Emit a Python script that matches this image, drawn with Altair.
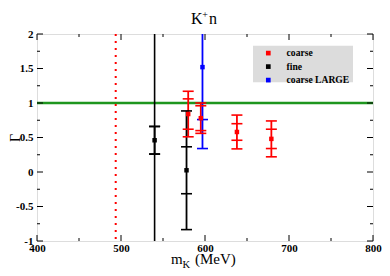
import altair as alt
import pandas as pd

# ---------------- data ----------------
series_names = ["coarse", "fine", "coarse LARGE"]
series_colors = ["#ff0000", "#000000", "#0000ff"]

coarse_x = [580, 595, 638, 679]
coarse_y = [0.84, 0.78, 0.58, 0.48]
coarse_err_in = [0.22, 0.18, 0.12, 0.14]
coarse_err_out = [0.33, 0.22, 0.245, 0.26]

fine_x = [540, 578]
fine_y = [0.46, 0.025]
fine_err_in = [0.20, 0.34]
fine_err_out = [0.20, 0.86]

large_x = [597]
large_y = [1.52]
large_err_in = [0.76]
large_err_out = [1.18]

hline_y = [1.0]
kaon_mass_x = [493.7]
threshold_x = [540]

x_major = [400, 500, 600, 700, 800]
x_minor = [450, 550, 650, 750]
y_major = [-1, -0.5, 0, 0.5, 1, 1.5, 2]
y_minor = [-0.75, -0.25, 0.25, 0.75, 1.25, 1.75]

# ---------------- tables ----------------
rows = []
for name, col, xs, ys, e1s, e2s in [
    ("coarse", "#ff0000", coarse_x, coarse_y, coarse_err_in, coarse_err_out),
    ("fine", "#000000", fine_x, fine_y, fine_err_in, fine_err_out),
    ("coarse LARGE", "#0000ff", large_x, large_y, large_err_in, large_err_out),
]:
    for x, y, e1, e2 in zip(xs, ys, e1s, e2s):
        rows.append(dict(series=name, col=col, x=x, y=y,
                         lo=y - e2, hi=y + e2, lo1=y - e1, hi1=y + e1))
df = pd.DataFrame(rows)

caps = []
for r in rows:
    for k in ["lo", "hi", "lo1", "hi1"]:
        caps.append(dict(col=r["col"], x=r["x"], y=r[k]))
caps_df = pd.DataFrame(caps)

FONT = "Liberation Serif"
W, H = 336, 207

xscale = alt.Scale(domain=[400, 800], nice=False, zero=False)
yscale = alt.Scale(domain=[-1, 2], nice=False, zero=False)
xaxis = alt.Axis(values=x_major, ticks=False, tickSize=0, domain=False, grid=False,
                 title=None, labelFont=FONT, labelFontSize=11, labelFontWeight="bold",
                 labelColor="black", labelPadding=1, labelFlush=False, labelOverlap=False,
                 labelExpr="toString(datum.value)")
yaxis = alt.Axis(values=y_major, ticks=False, tickSize=0, domain=False, grid=False,
                 title=None, labelFont=FONT, labelFontSize=11, labelFontWeight="bold",
                 labelColor="black", labelPadding=4, labelOverlap=False,
                 labelExpr="toString(datum.value)")


def X(f):
    return alt.X(f, type="quantitative", scale=xscale, axis=xaxis)


def Y(f):
    return alt.Y(f, type="quantitative", scale=yscale, axis=yaxis)


one = pd.DataFrame({"a": [0]})

legend_box = alt.Chart(one).mark_rect(fill="#dcdcdc").encode(
    x=alt.value(216), x2=alt.value(316), y=alt.value(11.7), y2=alt.value(48.3))

hline = alt.Chart(pd.DataFrame({"y": hline_y})).mark_rule(
    color="#1e961e", strokeWidth=2.5, clip=True).encode(y=Y("y"))

kaon = alt.Chart(pd.DataFrame({"x": kaon_mass_x})).mark_rule(
    color="#ff0000", strokeWidth=2, strokeDash=[2, 5], clip=True).encode(x=X("x"))

thresh = alt.Chart(pd.DataFrame({"x": threshold_x})).mark_rule(
    color="#000000", strokeWidth=1.6, clip=True).encode(x=X("x"))

bars = alt.Chart(df).mark_rule(strokeWidth=1.8, clip=True).encode(
    x=X("x"), y=Y("lo"), y2="hi", color=alt.Color("col:N", scale=None))

capmarks = alt.Chart(caps_df).mark_tick(orient="horizontal", size=11, thickness=1.6,
                                        clip=True, opacity=1).encode(
    x=X("x"), y=Y("y"), color=alt.Color("col:N", scale=None))

points = alt.Chart(df).mark_square(size=20, opacity=1, clip=True).encode(
    x=X("x"), y=Y("y"),
    color=alt.Color("series:N",
                    scale=alt.Scale(domain=series_names, range=series_colors),
                    legend=alt.Legend(orient="none", legendX=226.5, legendY=14.3,
                                      title=None, padding=0, symbolType="square",
                                      symbolSize=22, symbolStrokeWidth=0,
                                      labelFont=FONT, labelFontSize=9.6,
                                      labelFontWeight="bold", labelColor="black",
                                      labelOffset=13.5, rowPadding=2.5)))

tick_layers = []
for vals, ln in [(x_major, 6), (x_minor, 3)]:
    d = pd.DataFrame({"v": vals})
    tick_layers.append(alt.Chart(d).mark_rule(color="black", strokeWidth=1).encode(
        x=X("v"), y=alt.value(H), y2=alt.value(H - ln)))
    tick_layers.append(alt.Chart(d).mark_rule(color="black", strokeWidth=1).encode(
        x=X("v"), y=alt.value(0), y2=alt.value(ln)))
for vals, ln in [(y_major, 6), (y_minor, 3)]:
    d = pd.DataFrame({"v": vals})
    tick_layers.append(alt.Chart(d).mark_rule(color="black", strokeWidth=1).encode(
        y=Y("v"), x=alt.value(0), x2=alt.value(ln)))
    tick_layers.append(alt.Chart(d).mark_rule(color="black", strokeWidth=1).encode(
        y=Y("v"), x=alt.value(W), x2=alt.value(W - ln)))


def txt(t, x, y, size, align="left", baseline="alphabetic", angle=0):
    return alt.Chart(one).mark_text(text=t, font=FONT, fontSize=size, color="black",
                                    align=align, baseline=baseline, angle=angle).encode(
        x=alt.value(x), y=alt.value(y))


texts = [
    txt("K", 154, -10.5, 16),
    txt("+", 168, -19, 10, align="center", baseline="middle"),
    txt("n", 172, -10.5, 16),
    txt("m", 134, 230, 15),
    txt("K", 145.5, 233.5, 10.5),
    txt("(MeV)", 158, 230, 15),
    txt("\u0393", -21.5, 104, 14, align="center", baseline="middle", angle=270),
]

chart = alt.layer(legend_box, hline, kaon, thresh, bars, capmarks, points,
                  *tick_layers, *texts).properties(
    width=W, height=H,
    padding={"left": 29, "top": 26, "right": 9, "bottom": 27},
    autosize=alt.AutoSizeParams(type="none"),
).configure_view(stroke="black", strokeWidth=2).configure(background="white")

chart.save("out.html", embed_options={"renderer": "svg", "actions": False})
